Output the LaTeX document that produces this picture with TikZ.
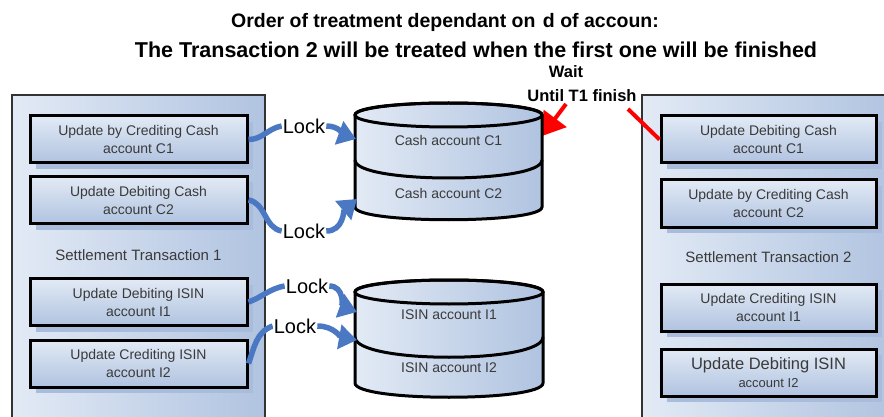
\documentclass[tikz,border=0pt]{standalone}
\usepackage{fontspec}
\setmainfont{Liberation Sans}
\usepackage{tikz}
\usetikzlibrary{arrows.meta,shadows,calc}

\definecolor{paleblue}{HTML}{E2EAF5}
\definecolor{midblue}{HTML}{B0C3E0}
\definecolor{shadeblue}{HTML}{A9BCDB}
\definecolor{lockblue}{HTML}{4A78C2}
\definecolor{boxtext}{HTML}{3A3A3A}

\tikzset{
  txbox/.style={draw=black!80, line width=2.5pt, left color=paleblue, right color=midblue},
  updbox/.style={draw=black, line width=3pt, minimum width=217pt, minimum height=47pt,
    align=center, text=boxtext, font=\fontsize{14}{18}\selectfont, inner sep=1pt,
    top color=paleblue, bottom color=midblue,
    drop shadow={shadow xshift=6pt, shadow yshift=-6pt, fill=shadeblue, opacity=1}},
  dbbody/.style={draw=black, line width=3pt, left color=paleblue, right color=midblue},
  dbline/.style={draw=black, line width=3pt},
  dblabel/.style={text=boxtext, font=\fontsize{14}{16}\selectfont},
  txlabel/.style={text=boxtext, font=\fontsize{15}{17}\selectfont},
  locklabel/.style={fill=white, inner sep=1pt, font=\fontsize{20}{22}\selectfont},
  lockarrow/.style={draw=lockblue, line width=5.5pt},
  lockhead/.style={lockarrow, -{Triangle[length=18pt,width=24pt]}},
  waitline/.style={draw=red, line width=4pt},
}

\begin{document}
\begin{tikzpicture}[x=1pt, y=-1pt]
    \useasboundingbox (0,0) rectangle (884,417);
    \clip (0,0) rectangle (884,417);

    % Title
    \node[font=\bfseries\fontsize{19.5}{22}\selectfont] (title1) at (445,22) {Order of treatment dependant on \hspace{2pt}d of accoun:};
    \node[font=\bfseries\fontsize{21.5}{24}\selectfont] (title2) at (476,50) {The Transaction 2 will be treated when the first one will be finished};

    % Wait
    \node[font=\bfseries\fontsize{16.5}{18}\selectfont] (wait) at (566,72) {Wait};
    \node[fill=white, inner sep=1pt, font=\bfseries\fontsize{16.5}{18}\selectfont] (until) at (582,96) {Until T1 finish};
    \coordinate (w1) at (628,109);
    \coordinate (w2) at (566,104);
    \coordinate (cashNE) at (542,136);

    % Transaction 1
    \draw[txbox] (12,95) rectangle (265,430);
    \node[updbox] (lc1) at (138.5,139.5) {Update by Crediting Cash\\account C1};
    \node[updbox] (lc2) at (138.5,200) {Update Debiting Cash\\account C2};
    \node[txlabel] (lt) at (138.5,255) {Settlement Transaction 1};
    \node[updbox] (lc3) at (138.5,302) {Update Debiting ISIN\\account I1};
    \node[updbox] (lc4) at (138.5,363.5) {Update Crediting ISIN\\account I2};

    % Transaction 2
    \draw[txbox] (642,95) rectangle (895,430);
    \node[updbox, minimum width=215pt] (rc1) at (768.5,139.5) {Update Debiting Cash\\account C1};
    \node[updbox, minimum width=215pt] (rc2) at (768.5,203.5) {Update by Crediting Cash\\account C2};
    \node[txlabel] (rt) at (768.5,257) {Settlement Transaction 2};
    \node[updbox, minimum width=215pt] (rc3) at (768.5,307.5) {Update Crediting ISIN\\account I1};
    \node[updbox, minimum width=215pt, font=\fontsize{16.5}{18}\selectfont] (rc4) at (768.5,372.5) {Update Debiting ISIN\\{\fontsize{13}{15}\selectfont account I2}};

    \draw[waitline] (rc1.west) -- (w1);
    \draw[waitline, -{Triangle[length=22pt,width=28pt]}] (w2) -- (cashNE);

    % Cash database
    \path[dbbody] (355,115) -- (355,207) .. controls (355,224) and (542,224) .. (542,207) -- (542,115) .. controls (542,99) and (355,99) .. cycle;
    \draw[dbline] (448.5,115) ellipse [x radius=93.5, y radius=12];
    \draw[dbline] (355,160) .. controls (355,184) and (542,184) .. (542,160);
    \node[dblabel] (cash1) at (448.5,140) {Cash account C1};
    \node[dblabel] (cash2) at (448.5,193) {Cash account C2};

    % ISIN database
    \path[dbbody] (355,292) -- (355,383) .. controls (355,402) and (543,402) .. (543,383) -- (543,292) .. controls (543,276) and (355,276) .. cycle;
    \draw[dbline] (449,292) ellipse [x radius=94, y radius=12];
    \draw[dbline] (355,337) .. controls (355,364) and (543,364) .. (543,337);
    \node[dblabel] (isin1) at (449,315) {ISIN account I1};
    \node[dblabel] (isin2) at (449,368) {ISIN account I2};

    % Locks
    \coordinate (cA) at (356,139);
    \coordinate (cB) at (357,199);
    \coordinate (iA) at (357,312);
    \coordinate (iB) at (357,340);
    \node[locklabel] (lk1) at (304,126) {Lock};
    \node[locklabel] (lk2) at (304,231) {Lock};
    \node[locklabel] (lk3) at (307,286) {Lock};
    \node[locklabel] (lk4) at (295,326) {Lock};
    \draw[lockarrow] (lc1.east) to[out=0, in=190] (lk1.west);
    \draw[lockhead] (lk1.east) to[out=0, in=160] (cA);
    \draw[lockarrow] (lc2.east) to[out=-10, in=170] (lk2.west);
    \draw[lockhead] (lk2.east) to[out=0, in=220] (cB);
    \draw[lockarrow] (lc3.east) to[out=20, in=190] (lk3.west);
    \draw[lockhead] (lk3.east) to[out=0, in=160] (iA);
    \draw[lockarrow] (lc4.east) to[out=70, in=200] (lk4.west);
    \draw[lockhead] (lk4.east) to[out=0, in=170] (iB);
    \node[locklabel] at (lk1) {Lock};
    \node[locklabel] at (lk2) {Lock};
    \node[locklabel] at (lk3) {Lock};
    \node[locklabel] at (lk4) {Lock};
\end{tikzpicture}
\end{document}
